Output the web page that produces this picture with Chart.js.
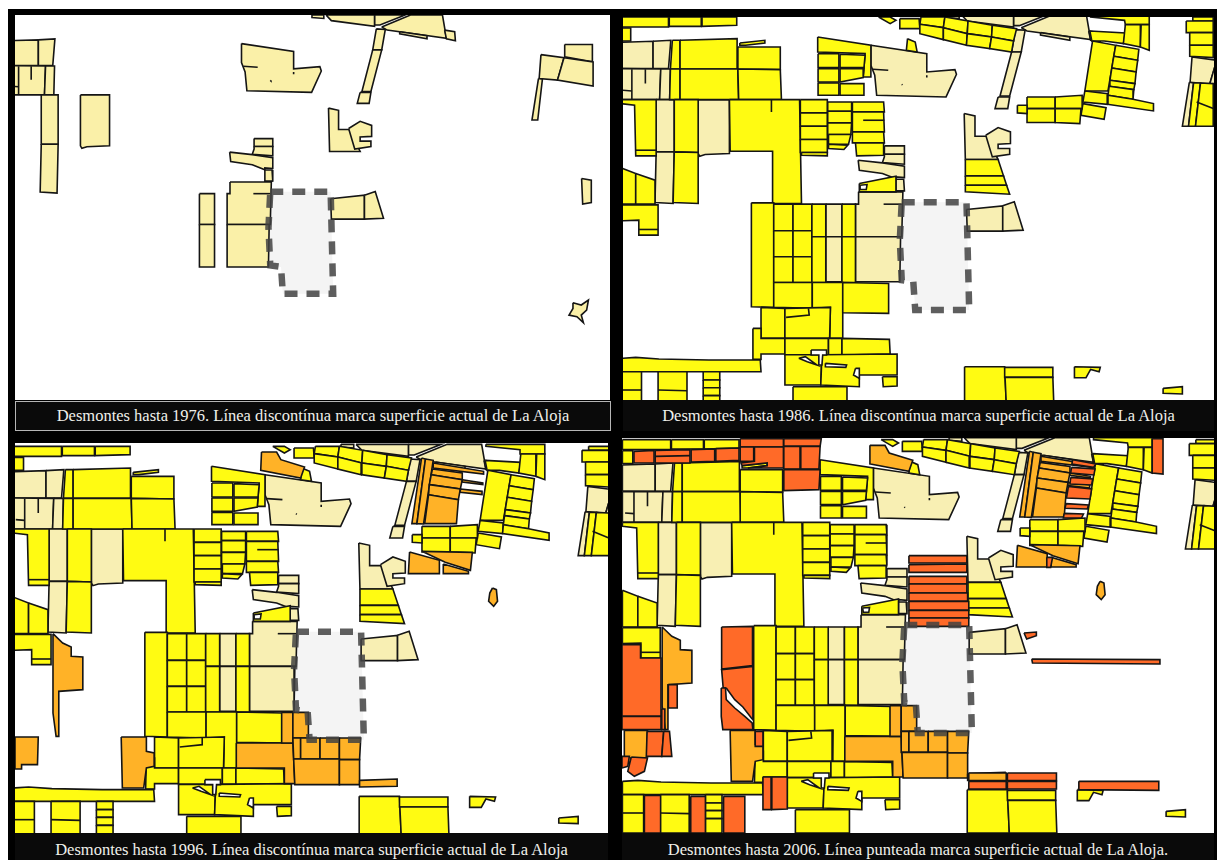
<!DOCTYPE html>
<html>
<head>
<meta charset="utf-8">
<title>Desmontes La Aloja</title>
<script src="https://cdn.jsdelivr.net/npm/chart.js@4"></script>
<style>
    html, body { margin: 0; padding: 0; background: #fff; overflow: hidden; }
    #sheet { position: absolute; left: 8px; top: 9px; width: 1209px; height: 851px; background: #000; }
    .panel { position: absolute; background: #fff; }
    .caption { position: absolute; color: #f0f0ea; background: #0a0a0a; text-align: center;
        font-family: "Liberation Serif", serif; font-size: 16.5px; white-space: nowrap; box-sizing: border-box; }
</style>
</head>
<body>
<div id="sheet"></div>
<script>
// map units are the same for all four panels, one flat x,y list per parcel
var years = [1976, 1986, 1996, 2006];
var captions = [
    "Desmontes hasta 1976. Línea discontínua marca superficie actual de La Aloja",
    "Desmontes hasta 1986. Línea discontínua marca superficie actual de La Aloja",
    "Desmontes hasta 1996. Línea discontínua marca superficie actual de La Aloja",
    "Desmontes hasta 2006. Línea punteada marca superficie actual de La Aloja."
];

var parcels1976 = [
    [20,126,105,123,105,205,20,205], [105,123,151,120,145,205,105,205],
    [20,205,125,206,122,298,20,298], [125,206,150,206,148,298,122,298],
    [113,298,160,298,160,455,113,455], [113,455,160,455,157,610,110,607],
    [222,298,303,298,303,460,240,463,226,468,222,460],
    [670,135,815,160,815,215,888,208,892,222,865,290,685,285,680,225,670,195],
    [1060,82,1140,44,1229,44,1240,118,1075,92], [1040,44,1125,44,1055,76,1040,76],
    [905,44,1040,44,1040,80,920,62], [866,44,899,44,899,55,866,52],
    [1235,92,1263,97,1265,126,1240,120], [1110,97,1186,110,1186,120,1110,104],
    [1045,88,1070,90,1060,155,1035,155], [1035,155,1060,155,1030,287,1005,287],
    [1000,290,1030,290,1025,325,992,325],
    [912,340,940,347,940,408,970,408,1000,478,915,478],
    [968,405,1000,382,1032,395,1032,430,1000,432,1000,445,1030,445,1030,462,985,470],
    [705,437,757,437,757,462,705,462], [705,462,757,462,757,492,700,487,705,470],
    [637,480,700,488,757,498,757,532,735,530,735,536,700,520,640,510],
    [735,537,755,537,757,572,735,572],
    [638,575,753,575,750,710,630,710,630,612,638,612], [630,710,747,710,745,845,630,845],
    [553,612,595,612,595,710,553,710], [553,710,595,710,595,845,553,845],
    [918,628,1012,617,1012,693,920,693], [1012,617,1042,605,1065,690,1012,693],
    [1503,170,1567,180,1549,251,1498,246], [1569,138,1646,138,1646,193,1569,177],
    [1567,180,1648,193,1648,270,1549,251], [1496,246,1507,248,1494,378,1478,378],
    [1616,564,1643,569,1643,640,1619,645],
    [1592,959,1615,966,1635,950,1630,982,1615,998,1621,1022,1603,1003,1581,998,1592,977]
];

var parcels1986 = [
    [20,50,145,50,145,80,20,80], [147,50,230,50,230,78,147,78], [232,50,322,50,322,75,232,78],
    [20,83,47,83,47,122,20,122], [155,120,175,120,175,206,150,206], [150,206,175,206,175,298,148,298],
    [175,120,323,115,323,206,175,206], [325,140,435,140,435,208,325,206],
    [330,128,395,120,395,128,345,135,330,135],
    [175,206,325,206,327,298,175,298], [325,206,435,208,438,298,327,298],
    [20,298,113,298,113,467,60,467,57,315,20,310], [160,298,222,298,222,457,160,455],
    [303,298,485,298,490,610,415,610,415,453,305,453], [160,455,222,457,222,610,157,607],
    [20,502,60,520,60,612,20,612], [60,520,110,540,110,612,60,612],
    [20,614,118,614,118,705,68,705,68,660,20,662],
    [487,298,557,298,557,338,487,338], [487,338,557,338,557,378,487,378],
    [487,378,557,378,557,418,487,418], [487,418,557,418,557,457,487,457], [490,457,557,457,557,467,490,465],
    [558,305,620,305,620,333,558,333], [558,333,620,333,620,368,558,368], [558,368,620,368,618,403,558,403],
    [560,403,618,403,612,432,560,432], [560,432,610,435,600,448,560,445],
    [622,305,703,305,705,335,622,335], [622,335,703,335,705,395,622,395],
    [622,395,703,395,705,428,622,428], [630,428,703,428,703,465,633,467],
    [532,110,670,135,670,230,650,230,655,160,532,155],
    [533,160,587,160,587,202,533,202], [590,162,655,165,652,202,590,202],
    [533,205,587,205,587,245,533,245], [590,205,652,205,650,232,590,245],
    [533,248,587,248,587,285,533,285], [590,250,652,250,652,285,590,285],
    [765,115,785,125,790,155,762,150], [690,50,720,50,735,60,720,70], [745,55,795,55,797,85,745,85],
    [800,50,862,50,858,82,797,72], [862,50,922,62,920,100,858,82],
    [922,62,985,75,983,110,920,100], [985,75,1048,85,1040,122,983,110],
    [797,72,858,82,858,118,797,100], [858,82,920,100,918,135,858,118],
    [920,100,983,110,978,145,918,135], [983,110,1040,122,1035,155,978,145],
    [1240,44,1392,44,1392,73,1330,73,1328,60,1240,50],
    [1238,92,1330,98,1325,130,1275,122,1243,122],
    [1330,73,1369,73,1369,140,1325,130], [1371,73,1392,73,1392,150,1369,140],
    [1245,122,1305,135,1285,272,1225,272], [1225,272,1285,280,1283,312,1220,305],
    [1305,135,1365,147,1362,180,1300,168], [1300,168,1362,180,1358,215,1295,203],
    [1295,203,1358,215,1355,250,1290,240], [1290,240,1355,250,1352,268,1288,258],
    [1288,258,1352,268,1350,297,1285,285], [1285,285,1350,297,1403,310,1403,332,1283,312],
    [1220,310,1280,322,1275,357,1215,345],
    [1075,290,1148,290,1148,325,1075,325], [1148,290,1218,285,1218,325,1148,325],
    [1075,325,1148,325,1148,367,1075,367], [1148,325,1215,325,1212,370,1148,367],
    [1050,315,1075,315,1075,340,1050,338],
    [1505,50,1558,50,1558,62,1505,62], [1488,62,1558,62,1558,97,1488,97],
    [1497,97,1558,97,1558,135,1497,135], [1497,135,1558,135,1558,172,1497,168],
    [1507,248,1525,248,1512,378,1494,378], [1525,248,1558,250,1558,378,1512,378],
    [915,478,1000,478,1014,527,915,527], [915,527,1014,527,1022,555,915,555], [915,555,1022,555,1030,582,915,575],
    [640,550,735,528,735,575,640,575],
    [360,608,418,608,418,922,360,920],
    [418,612,468,612,468,692,418,692], [468,612,517,612,517,692,468,692],
    [418,692,468,692,468,770,418,770], [468,692,517,692,517,770,468,770],
    [418,770,468,770,468,847,418,847], [468,770,517,770,517,847,468,847],
    [517,612,553,612,553,710,517,710], [517,710,553,710,553,847,517,847],
    [595,612,630,612,630,710,595,710], [595,710,630,710,630,847,595,847],
    [418,847,518,847,518,925,418,922], [518,847,597,847,597,1015,563,1015,565,922,518,925],
    [597,847,716,850,716,940,597,938],
    [385,922,447,925,447,1015,385,1015], [447,925,565,922,563,1015,447,1015],
    [364,985,385,985,385,1015,447,1015,447,1062,385,1062,385,1078,362,1078],
    [447,1015,560,1015,560,1064,447,1064], [560,1015,595,1015,595,1064,560,1064],
    [595,1015,718,1018,720,1062,595,1065],
    [447,1064,543,1064,540,1155,447,1155],
    [543,1064,738,1062,738,1125,640,1125,640,1160,540,1155],
    [700,1130,738,1130,738,1158,702,1160],
    [20,1075,60,1072,120,1077,250,1080,383,1080,385,1115,250,1115,20,1115],
    [20,1115,75,1115,75,1230,20,1230], [118,1115,193,1115,193,1230,118,1230],
    [235,1115,278,1115,278,1140,235,1140], [235,1140,278,1140,278,1163,235,1163],
    [235,1163,278,1163,278,1187,235,1187], [235,1187,278,1187,278,1230,235,1230],
    [468,1160,608,1160,608,1230,468,1230],
    [913,1100,1017,1100,1022,1230,913,1230], [1017,1102,1142,1102,1142,1132,1017,1132],
    [1018,1132,1142,1132,1145,1230,1022,1230],
    [1198,1100,1265,1102,1262,1115,1240,1108,1228,1133,1198,1133],
    [1428,1165,1478,1160,1478,1182,1428,1180]
];

var parcels1996 = [
    [661,67,700,67,711,90,772,112,762,145,659,122],
    [123,612,148,640,170,652,170,680,200,682,200,780,138,785,138,920,131,920,123,850,123,785],
    [25,922,85,922,83,1005,42,1005,42,1018,25,1018],
    [299,922,364,922,364,965,384,970,384,1010,364,1015,357,1075,302,1075],
    [596,940,742,940,744,988,747,1062,720,1062,720,1015,596,1015],
    [713,848,742,848,742,940,713,940], [742,848,782,848,782,925,742,925],
    [742,925,762,925,762,988,744,988], [762,925,812,925,812,988,762,988],
    [812,925,862,925,862,988,812,988], [862,925,917,925,914,990,862,990],
    [744,988,862,988,862,1065,747,1065], [862,990,914,990,914,1065,862,1065],
    [914,1052,1011,1048,1011,1070,914,1072],
    [1257,475,1267,480,1270,515,1260,530,1247,515,1250,490],
    [1074,85,1084,88,1062,282,1049,282], [1084,88,1104,92,1079,283,1062,282],
    [1104,100,1234,125,1234,133,1104,115], [1102,118,1179,130,1179,150,1099,135],
    [1099,135,1179,150,1174,178,1094,165], [1094,165,1174,178,1169,210,1092,195],
    [1092,195,1169,210,1164,282,1082,282],
    [1179,150,1232,160,1232,165,1179,157], [1174,178,1230,185,1230,195,1174,188],
    [1043,367,1120,392,1120,432,1040,432], [1075,365,1205,368,1200,422,1135,398],
    [1130,403,1195,425,1195,432,1130,432]
];

var orange2006 = [
    [917,1050,1014,1050,1014,1073,917,1073]
];

var parcels2006 = [
    [325,47,437,47,437,72,325,72], [438,47,535,47,532,70,438,70],
    [50,85,102,82,102,120,50,120], [105,82,195,80,195,120,105,120],
    [198,80,259,78,259,115,198,117], [262,77,322,75,322,112,262,115],
    [325,72,360,72,360,115,325,115],
    [362,72,437,72,437,135,345,135,395,128,395,120,330,128,327,120,362,115],
    [438,70,480,70,480,138,438,138], [482,70,532,70,529,138,482,138],
    [438,140,532,140,529,200,438,203],
    [762,398,912,398,912,420,762,420], [762,425,912,423,912,448,762,448],
    [762,460,912,460,912,483,762,483], [762,483,912,483,912,510,762,510],
    [762,510,914,510,914,535,762,535], [762,535,917,535,917,562,762,562],
    [762,562,917,562,917,585,762,585], [762,585,917,585,917,610,762,610],
    [1060,630,1092,627,1092,638,1067,648], [1080,708,1412,710,1412,723,1082,720],
    [19,665,67,665,67,705,120,705,120,880,19,880], [19,880,120,880,120,920,19,920],
    [122,858,130,858,130,920,120,920], [139,785,162,785,162,855,139,855],
    [84,925,127,925,122,1000,82,1000], [127,925,142,925,148,1000,122,1000],
    [19,1000,38,1000,34,1030,19,1035], [43,1002,85,1005,77,1045,51,1060,34,1045],
    [277,612,357,610,357,728,277,738],
    [289,795,311,830,332,852,354,885,358,890,358,730,277,740,281,795],
    [276,795,287,795,289,830,311,855,337,880,356,900,358,920,280,920,276,880],
    [364,925,384,925,384,970,364,970],
    [384,1062,405,1062,405,1160,384,1160], [407,1062,447,1062,447,1158,407,1160],
    [77,1117,119,1117,119,1230,77,1230], [197,1120,235,1120,235,1230,197,1230],
    [282,1120,337,1120,337,1230,282,1230],
    [1017,1050,1144,1050,1144,1073,1017,1073], [917,1075,1014,1075,1014,1098,917,1098],
    [1017,1075,1144,1075,1144,1098,1017,1098],
    [1202,1075,1409,1075,1409,1102,1202,1100],
    [1392,47,1420,47,1420,153,1392,150],
    [1186,110,1246,123,1240,133,1184,123], [1183,133,1244,138,1241,156,1181,150],
    [1181,163,1238,168,1235,186,1179,183], [1175,190,1235,198,1231,228,1170,225],
    [1169,242,1227,246,1224,258,1166,256], [1164,271,1214,273,1209,285,1162,285],
    [1119,403,1134,403,1129,433,1119,433]
];

// holes left inside the yellow parcels
var holes1986 = [
    [483,1075,500,1070,530,1095,505,1085],
    [515,1050,555,1050,555,1065,545,1065,543,1095,535,1095,535,1065,515,1065],
    [552,1090,607,1095,605,1102,552,1100],
    [630,1105,640,1105,640,1135,625,1125],
    [642,555,660,553,658,568,644,568]
];

// inner boundaries that do not close a parcel
var lines1976 = [
    [675,207,715,210], [85,207,85,250], [50,207,50,297], [27,270,50,272],
    [703,612,750,612], [750,252,752,254], [815,225,815,232]
];
var lines1986 = [
    [412,298,412,335], [650,360,705,360], [450,952,510,945,508,925], [60,450,113,450],
    [68,688,118,688], [1515,305,1558,325], [20,1170,75,1170], [118,1170,193,1172]
];
var lines2006 = [
    [105,100,195,98]
];

var laAloja = [750,606,918,606,925,930,785,930,780,845,750,840,745,720];

// position of each panel on the page and the part of the map it shows
var panels = [
    { left: 15,  top: 15,  width: 595, height: 385, x: [40, 1695], y: [44, 1268], cap: [15, 401, 596, 30], capBorder: true, beige: "#faf0a8" },
    { left: 623, top: 17,  width: 591, height: 383, x: [27, 1560], y: [50, 1200], cap: [623, 400, 591, 31], beige: "#f8efb3" },
    { left: 15,  top: 443, width: 593, height: 390, x: [25, 1555], y: [40, 1210], cap: [15, 833, 593, 34], beige: "#f8efb3" },
    { left: 622, top: 438, width: 592, height: 395, x: [19, 1552], y: [45, 1230], cap: [622, 833, 592, 34], beige: "#f8efb3" }
];

var colors = { yellow: "#fffb12", orange: "#ffb227", red: "#ff6a28" };

function toPoints(flat, close) {
    var pts = [];
    for (var i = 0; i < flat.length; i += 2) {
        pts.push({ x: flat[i], y: flat[i + 1] });
    }
    if (close) pts.push({ x: flat[0], y: flat[1] });
    return pts;
}

function polygon(flat, fillColor) {
    return {
        data: toPoints(flat, true), showLine: true, pointRadius: 0, fill: "shape",
        backgroundColor: fillColor, borderColor: "#151515", borderWidth: 1.6, clip: 0
    };
}

function openLine(flat) {
    return {
        data: toPoints(flat, false), showLine: true, pointRadius: 0, fill: false,
        borderColor: "#151515", borderWidth: 1.6, clip: 0
    };
}

function buildDatasets(year, beige) {
    var list = [];
    list.push({
        data: toPoints(laAloja, true), showLine: true, pointRadius: 0, fill: "shape",
        backgroundColor: "#f4f4f4", borderWidth: 0, clip: 0
    });
    parcels1976.forEach(function (p) { list.push(polygon(p, beige)); });
    if (year >= 1986) {
        parcels1986.forEach(function (p) { list.push(polygon(p, colors.yellow)); });
        holes1986.forEach(function (p) { list.push(polygon(p, "#ffffff")); });
    }
    if (year >= 1996) {
        parcels1996.forEach(function (p) { list.push(polygon(p, colors.orange)); });
    }
    if (year >= 2006) {
        orange2006.forEach(function (p) { list.push(polygon(p, colors.orange)); });
        parcels2006.forEach(function (p) { list.push(polygon(p, colors.red)); });
    }
    lines1976.forEach(function (p) { list.push(openLine(p)); });
    if (year >= 1986) lines1986.forEach(function (p) { list.push(openLine(p)); });
    if (year >= 2006) lines2006.forEach(function (p) { list.push(openLine(p)); });
    list.push({
        data: toPoints(laAloja, true), showLine: true, pointRadius: 0, fill: false,
        borderColor: "rgba(66,66,66,0.85)", borderWidth: 6.5, borderDash: [13, 9], clip: 0
    });
    // Chart.js paints the first dataset on top
    return list.reverse();
}

var sheet = document.getElementById("sheet");

panels.forEach(function (panel, i) {
    var box = document.createElement("div");
    box.className = "panel";
    box.style.cssText = "left:" + (panel.left - 8) + "px;top:" + (panel.top - 9) + "px;width:" + panel.width + "px;height:" + panel.height + "px";
    var canvas = document.createElement("canvas");
    canvas.width = panel.width;
    canvas.height = panel.height;
    canvas.style.display = "block";
    box.appendChild(canvas);
    sheet.appendChild(box);

    var cap = document.createElement("div");
    cap.className = "caption";
    cap.textContent = captions[i];
    cap.style.cssText = "left:" + (panel.cap[0] - 8) + "px;top:" + (panel.cap[1] - 9) + "px;width:" + panel.cap[2] + "px;height:" + panel.cap[3] + "px;line-height:" + panel.cap[3] + "px"
        + (panel.capBorder ? ";border:1px solid #b5b5b5;line-height:" + (panel.cap[3] - 2) + "px" : "");
    sheet.appendChild(cap);

    new Chart(canvas.getContext("2d"), {
        type: "scatter",
        data: { datasets: buildDatasets(years[i], panel.beige) },
        options: {
            responsive: false,
            animation: false,
            layout: { padding: 0 },
            elements: { line: { tension: 0, borderJoinStyle: "miter" } },
            plugins: { legend: { display: false }, tooltip: { enabled: false } },
            scales: {
                x: { type: "linear", display: false, min: panel.x[0], max: panel.x[1] },
                y: { type: "linear", display: false, reverse: true, min: panel.y[0], max: panel.y[1] }
            }
        }
    });
});
</script>
</body>
</html>
